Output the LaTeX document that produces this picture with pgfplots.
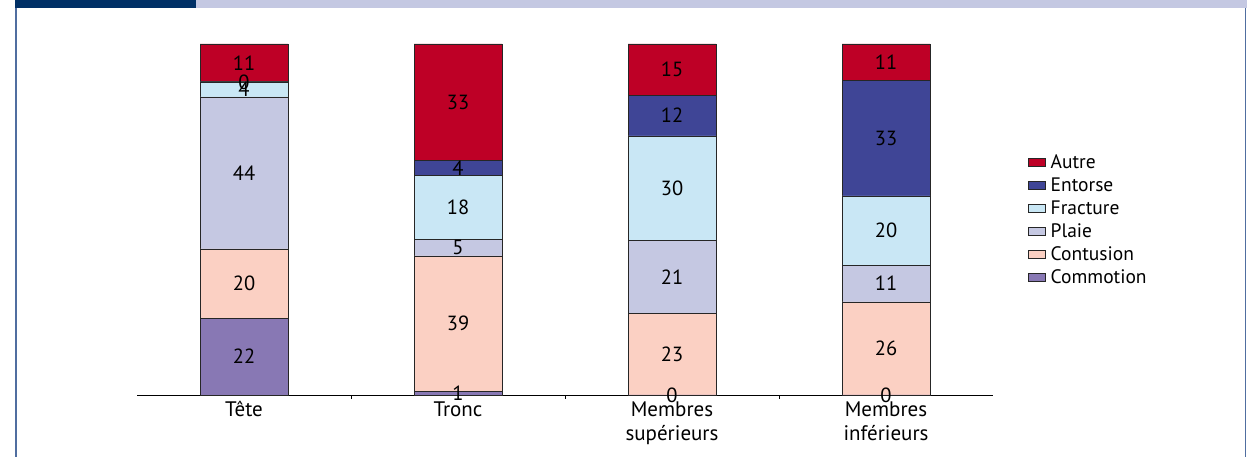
\documentclass[border=0pt]{standalone}
\usepackage{pgfplots}
\usepackage{pgfplotstable}
\pgfplotsset{compat=1.18}
\usepackage{fontspec}
\setmainfont{PT Sans}
\definecolor{cAutre}{RGB}{190,0,38}
\definecolor{cEntorse}{RGB}{63,69,150}
\definecolor{cFracture}{RGB}{201,231,245}
\definecolor{cPlaie}{RGB}{197,200,226}
\definecolor{cContusion}{RGB}{251,208,195}
\definecolor{cCommotion}{RGB}{136,120,180}
\definecolor{frameDark}{RGB}{0,48,102}
\definecolor{frameLight}{RGB}{196,200,226}
\definecolor{frameLine}{RGB}{80,110,160}

\pgfplotstableread{
x commotion ccom contusion ccon plaie cpl fracture cfr entorse cen autre cau
0 21.9 22 19.7 20 43.3 44 4.3 4 0.01 0 10.8 11
1 1.0 1 38.6 39 4.7 5 18.2 18 4.3 4 33.2 33
2 0.01 0 23.1 23 20.8 21 29.9 30 11.6 12 14.6 15
3 0.01 0 26.5 26 10.5 11 19.7 20 32.8 33 10.5 11
}\data

\pgfplotsset{
  seg/.style n args={3}{
    fill=#1, draw=black!85, line width=0.8pt,
    nodes near coords,
    point meta=explicit symbolic,
    every node near coord/.append style={anchor=center, text=black,
      font=\fontsize{20.5}{22}\selectfont},
  },
}

\begin{document}
\begin{tikzpicture}
\path[use as bounding box] (0pt,0pt) rectangle (1258pt,457pt);
% frame
\fill[frameLight] (196pt,449pt) rectangle (1247pt,457pt);
\fill[frameDark] (15pt,449pt) rectangle (196pt,457pt);
\draw[frameLine, line width=1.6pt] (16pt,449pt) -- (16pt,0pt);
\draw[frameLine, line width=1.6pt] (1245.5pt,449pt) -- (1245.5pt,0pt);

\begin{axis}[
  at={(137pt,62pt)}, anchor=south west,
  scale only axis, width=856pt, height=351pt,
  ybar stacked, bar width=88pt,
  xmin=-0.5, xmax=3.5, ymin=0, ymax=100,
  axis x line*=bottom, axis y line=none,
  x axis line style={line width=0.8pt, -},
  xtick={0,1,2,3},
  xticklabels={T\^ete, Tronc, {Membres\\sup\'erieurs}, {Membres\\inf\'erieurs}},
  xticklabel style={align=center, font=\fontsize{21}{24}\selectfont, yshift=-3pt},
  major tick length=0pt,
  extra x ticks={0.5,1.5,2.5},
  extra x tick labels={},
  extra x tick style={major tick length=4pt, tick align=outside, tick style={black, line width=0.8pt}},
  clip=false,
  reverse legend,
  legend cell align=left,
  legend style={draw=none, fill=none, at={(1.037,0.697)}, anchor=north west,
    font=\fontsize{19.5}{21}\selectfont, row sep=3.8pt,
    /tikz/every odd column/.append style={column sep=3pt}},
  legend image code/.code={\draw[#1, line width=0.8pt] (0pt,-4pt) rectangle (17pt,4pt);},
]
\addplot[seg={cCommotion}{commotion}{ccom}] table[x=x, y=commotion, meta=ccom] \data;
\addplot[seg={cContusion}{contusion}{ccon}] table[x=x, y=contusion, meta=ccon] \data;
\addplot[seg={cPlaie}{plaie}{cpl}] table[x=x, y=plaie, meta=cpl] \data;
\addplot[seg={cFracture}{fracture}{cfr}] table[x=x, y=fracture, meta=cfr] \data;
\addplot[seg={cEntorse}{entorse}{cen}] table[x=x, y=entorse, meta=cen] \data;
\addplot[seg={cAutre}{autre}{cau}] table[x=x, y=autre, meta=cau] \data;
\legend{Commotion, Contusion, Plaie, Fracture, Entorse, Autre}
\end{axis}
\end{tikzpicture}
\end{document}
